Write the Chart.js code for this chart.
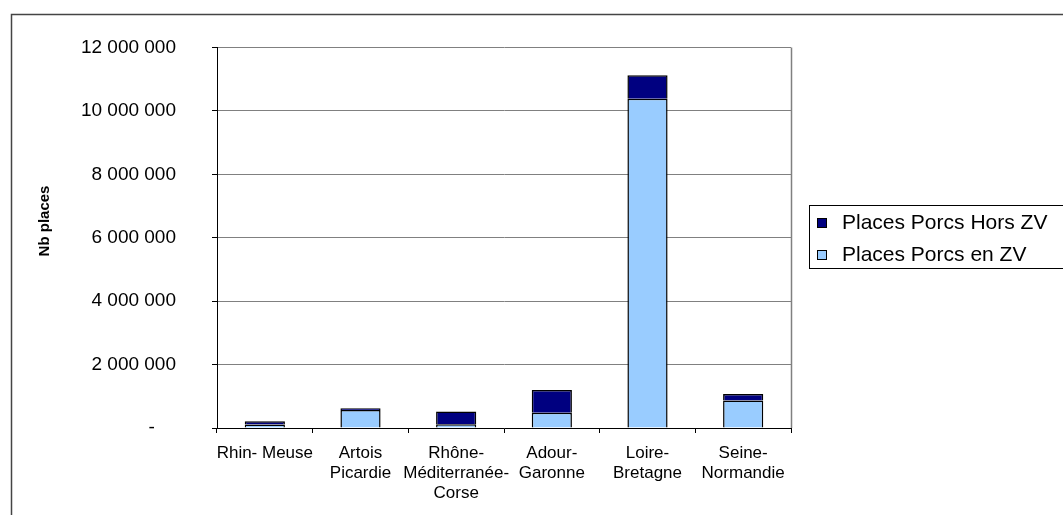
<!DOCTYPE html>
<html>
<head>
<meta charset="utf-8">
<script src="https://cdn.jsdelivr.net/npm/chart.js@4"></script>
<style>
  body { margin: 0; background: #fff; }
  canvas { display: block; }
</style>
</head>
<body>
<canvas id="porcs" width="1063" height="515"></canvas>
<script>
// bassins, places porcs en zone vulnérable / hors zone vulnérable
var bassins = [['Rhin- Meuse'], ['Artois', 'Picardie'], ['Rhône-', 'Méditerranée-', 'Corse'],
               ['Adour-', 'Garonne'], ['Loire-', 'Bretagne'], ['Seine-', 'Normandie']];
var placesEnZV   = [110000, 565000, 115000, 480000, 10380000, 865000];
var placesHorsZV = [100000, 60000, 405000, 720000, 740000, 210000];
var yTicks = [0, 2000000, 4000000, 6000000, 8000000, 10000000, 12000000];

var FONT = "'Liberation Sans', Arial, sans-serif";

function formatNb(v) {
    if (v === 0) return '-    ';
    return String(v).replace(/\B(?=(\d{3})+(?!\d))/g, ' ');
}

// fond blanc, cadre, titre vertical, légende encadrée, bord droit du tracé
var decor = {
    id: 'decor',
    beforeDraw: function (chart) {
        var c = chart.ctx;
        c.save();
        c.fillStyle = '#fff';
        c.fillRect(0, 0, chart.width, chart.height);
        c.restore();
    },
    afterDraw: function (chart) {
        var c = chart.ctx, a = chart.chartArea;
        c.save();
        // bord droit de la zone de tracé
        c.strokeStyle = '#808080';
        c.lineWidth = 1.5;
        c.beginPath();
        c.moveTo(Math.round(a.right) + 0.5, a.top);
        c.lineTo(Math.round(a.right) + 0.5, a.bottom);
        c.stroke();

        // cadre du graphique
        c.strokeStyle = '#444';
        c.lineWidth = 1.5;
        c.strokeRect(11.5, 14.5, 1200, 600);

        // titre de l'axe
        c.fillStyle = '#000';
        c.font = 'bold 15px ' + FONT;
        c.textAlign = 'center';
        c.textBaseline = 'middle';
        c.translate(45, 221);
        c.rotate(-Math.PI / 2);
        c.fillText('Nb places', 0, 0);
        c.restore();

        // légende
        c.save();
        c.strokeStyle = '#000';
        c.lineWidth = 1;
        c.strokeRect(809.5, 205.5, 400, 63);
        var items = [chart.data.datasets[1], chart.data.datasets[0]];
        c.font = '21px ' + FONT;
        c.textAlign = 'left';
        c.textBaseline = 'alphabetic';
        items.forEach(function (ds, i) {
            var y = 218 + i * 32;
            c.fillStyle = ds.backgroundColor;
            c.fillRect(817.5, y + 0.5, 9, 9);
            c.strokeRect(817.5, y + 0.5, 9, 9);
            c.fillStyle = '#000';
            c.fillText(ds.label, 842, y + 11);
        });
        c.restore();
    }
};

new Chart(document.getElementById('porcs'), {
    type: 'bar',
    data: {
        labels: bassins,
        datasets: [{
            label: 'Places Porcs en ZV',
            data: placesEnZV,
            backgroundColor: '#99CCFF',
            borderColor: '#000',
            borderWidth: 1.5,
            barPercentage: 0.42,
            categoryPercentage: 1
        }, {
            label: 'Places Porcs Hors ZV',
            data: placesHorsZV,
            backgroundColor: '#000080',
            borderColor: '#000',
            borderWidth: 1.5,
            barPercentage: 0.42,
            categoryPercentage: 1
        }]
    },
    options: {
        responsive: false,
        animation: false,
        layout: { padding: { left: 0, top: 45, right: 272, bottom: 0 } },
        plugins: {
            legend: { display: false },
            tooltip: { enabled: false }
        },
        scales: {
            x: {
                stacked: true,
                grid: { display: true, drawOnChartArea: false, offset: true, tickLength: 5, tickColor: '#000' },
                border: { color: '#000' },
                ticks: {
                    color: '#000',
                    font: { family: FONT, size: 17, lineHeight: 1.18 },
                    maxRotation: 0,
                    autoSkip: false,
                    padding: 10
                },
                afterFit: function (s) { s.height = 87; }
            },
            y: {
                stacked: true,
                min: 0,
                max: 12000000,
                afterBuildTicks: function (s) {
                    s.ticks = yTicks.map(function (v) { return { value: v }; });
                },
                grid: { color: '#808080', tickLength: 5, tickColor: '#000' },
                border: { color: '#000' },
                ticks: {
                    color: '#000',
                    font: { family: FONT, size: 19 },
                    padding: 36,
                    callback: function (v) { return formatNb(v); }
                },
                afterFit: function (s) { s.width = 217; }
            }
        }
    },
    plugins: [decor]
});
</script>
</body>
</html>
